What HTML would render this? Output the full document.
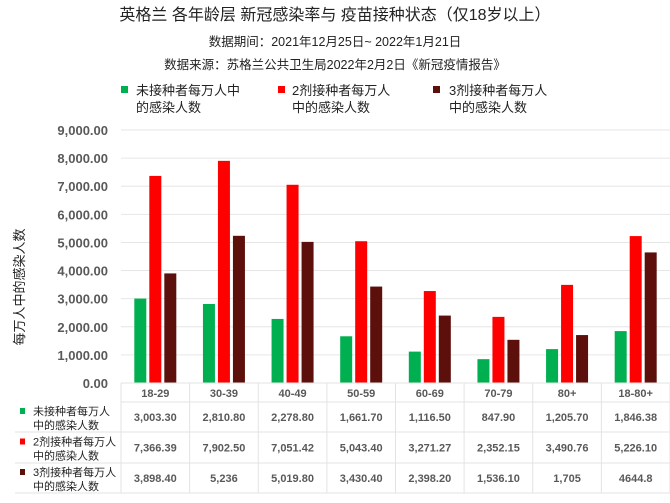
<!DOCTYPE html>
<html><head><meta charset="utf-8"><style>
body{margin:0;background:#fff;font-family:"Liberation Sans","Noto Sans CJK SC",sans-serif;}
svg text{font-family:"Liberation Sans","Noto Sans CJK SC",sans-serif;}
</style></head><body>
<svg id="c" width="670" height="498" viewBox="0 0 670 498">
<text x="335" y="20" text-anchor="middle" font-size="16" fill="#222">英格兰 各年龄层 新冠感染率与 疫苗接种状态（仅18岁以上）</text>
<text x="335" y="46" text-anchor="middle" font-size="12.5" fill="#222">数据期间：2021年12月25日~ 2022年1月21日</text>
<text x="335" y="69" text-anchor="middle" font-size="12.5" fill="#222">数据来源：苏格兰公共卫生局2022年2月2日《新冠疫情报告》</text>
<g>
<rect x="121" y="86" width="7" height="7" fill="#00b050"/>
<text x="136" y="95" font-size="13" fill="#222">未接种者每万人中</text>
<text x="136" y="112" font-size="13" fill="#222">的感染人数</text>
<rect x="278" y="86" width="7" height="7" fill="#ff0000"/>
<text x="292" y="95" font-size="13" fill="#222">2剂接种者每万人</text>
<text x="292" y="112" font-size="13" fill="#222">中的感染人数</text>
<rect x="433" y="86" width="7" height="7" fill="#5c0f0b"/>
<text x="449" y="95" font-size="13" fill="#222">3剂接种者每万人</text>
<text x="449" y="112" font-size="13" fill="#222">中的感染人数</text>
</g>
<text transform="translate(24,287) rotate(-90)" text-anchor="middle" font-size="13" fill="#222">每万人中的感染人数</text>
<g id="grid"></g><g id="bars"></g><g id="table"></g>
</svg>
<script>
const categories=["18-29","30-39","40-49","50-59","60-69","70-79","80+","18-80+"];
const unvaccinated=[3003.30,2810.80,2278.80,1661.70,1116.50,847.90,1205.70,1846.38];
const dose2=[7366.39,7902.50,7051.42,5043.40,3271.27,2352.15,3490.76,5226.10];
const dose3=[3898.40,5236,5019.80,3430.40,2398.20,1536.10,1705,4644.8];
const labelsUnvax=["3,003.30","2,810.80","2,278.80","1,661.70","1,116.50","847.90","1,205.70","1,846.38"];
const labels2=["7,366.39","7,902.50","7,051.42","5,043.40","3,271.27","2,352.15","3,490.76","5,226.10"];
const labels3=["3,898.40","5,236","5,019.80","3,430.40","2,398.20","1,536.10","1,705","4644.8"];
const yTicks=[0,1000,2000,3000,4000,5000,6000,7000,8000,9000];
const NS="http://www.w3.org/2000/svg";
const x0=121,x1=670,yBase=383,yTop=130,yMax=9000;
const cw=(x1-x0)/categories.length;
const y=v=>yBase-(v/yMax)*(yBase-yTop);
const cx=i=>x0+cw*i+cw/2;
function mk(t,a,p){const e=document.createElementNS(NS,t);for(const k in a)e.setAttribute(k,a[k]);p.appendChild(e);return e;}
const grid=document.getElementById('grid');
yTicks.forEach(v=>{
 const l=mk('line',{x1:x0,x2:x1,y1:y(v),y2:y(v),stroke:'#e6e6e6','stroke-width':1},grid);
 
 
 const t=mk('text',{x:108,y:y(v)+5,'text-anchor':'end','font-size':13,'font-weight':'bold',fill:'#595959'},grid);
 t.textContent=v.toLocaleString('en-US',{minimumFractionDigits:2});
 
 
});
const bars=document.getElementById('bars');
const series=[[unvaccinated,'#00b050',-15],[dose2,'#ff0000',0],[dose3,'#5c0f0b',15]];
series.forEach(([vals,col,off],s)=>{
 vals.forEach((v,i)=>{
  const r=mk('rect',{x:cx(i)+off-6,y:y(v),width:12,height:yBase-y(v),fill:col},bars);
  
  
 });
});
const tb=document.getElementById('table');
const rows=[383,402,432,463,493];
rows.forEach(r=>mk('line',{x1:r==383||r==402?x0:15,x2:x1,y1:r,y2:r,stroke:'#e3e3e3'},tb));
for(let i=0;i<=categories.length;i++)mk('line',{x1:x0+cw*i,x2:x0+cw*i,y1:383,y2:493,stroke:'#e3e3e3'},tb);
categories.forEach((c,i)=>{
 const t=mk('text',{x:cx(i),y:397,'text-anchor':'middle','font-size':11,'font-weight':'bold',fill:'#595959'},tb);
 t.textContent=c;
 
 
});
const rowLabels=[labelsUnvax,labels2,labels3];
const rowNames=['未接种者每万人','2剂接种者每万人','3剂接种者每万人'];
const cols=['#00b050','#ff0000','#5c0f0b'];
rowLabels.forEach((arr,r)=>{
 const yc=(rows[r+1]+rows[r+2])/2;
 mk('rect',{x:20,y:yc-9,width:5,height:6,fill:cols[r]},tb);
 const a=mk('text',{x:33,y:yc-2,'font-size':11,fill:'#222'},tb);a.textContent=rowNames[r];
 
 
 const b=mk('text',{x:33,y:yc+12,'font-size':11,fill:'#222'},tb);b.textContent='中的感染人数';
 arr.forEach((s,i)=>{
  const t=mk('text',{x:cx(i),y:yc+4,'text-anchor':'middle','font-size':11,'font-weight':'bold',fill:'#595959'},tb);
  t.textContent=s;
  
  
 });
});
</script>
</body></html>
